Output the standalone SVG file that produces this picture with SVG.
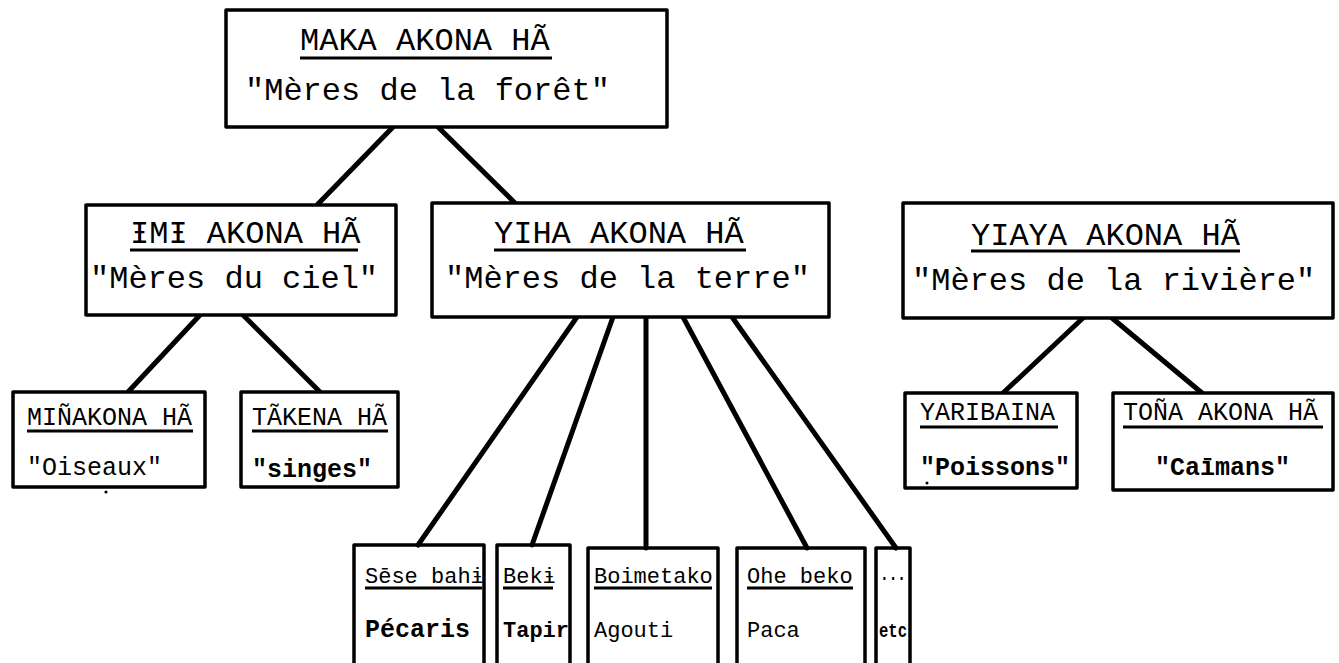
<svg xmlns="http://www.w3.org/2000/svg" width="1339" height="663" viewBox="0 0 1339 663">
<style>
.box{fill:#fff;stroke:#000;stroke-width:3.5;stroke-linejoin:round}
.ob{fill:none;stroke:#000;stroke-width:3.5;stroke-linejoin:round}
.ul{stroke:#000;stroke-width:2.8}
.c{stroke:#000;stroke-width:5;stroke-linecap:round;fill:none}
.t{font-family:"Liberation Mono","DejaVu Sans Mono",monospace;font-size:32px;fill:#000}
.s{font-family:"Liberation Mono","DejaVu Sans Mono",monospace;font-size:25px;fill:#000}
.b{font-family:"Liberation Mono","DejaVu Sans Mono",monospace;font-size:22px;fill:#000}
.bb{font-weight:bold}
</style>
<rect width="1339" height="663" fill="#fff"/>
<g id="connectors">
<line class="c" x1="393" y1="127" x2="317" y2="205"/>
<line class="c" x1="438" y1="127" x2="515" y2="203"/>
<line class="c" x1="200" y1="315" x2="128" y2="392"/>
<line class="c" x1="243" y1="315" x2="320" y2="392"/>
<line class="c" x1="1083" y1="318" x2="1003" y2="393"/>
<line class="c" x1="1112" y1="318" x2="1202" y2="393"/>
<line class="c" x1="577" y1="317" x2="418" y2="545"/>
<line class="c" x1="613" y1="317" x2="532" y2="545"/>
<line class="c" x1="646" y1="317" x2="646" y2="548"/>
<line class="c" x1="683" y1="317" x2="807" y2="548"/>
<line class="c" x1="732" y1="317" x2="896" y2="548"/>
</g>
<g id="maka">
<rect class="box" x="226" y="10" width="441" height="117"/>
<text class="t" x="300" y="50">MAKA AKONA HÃ</text>
<line class="ul" x1="300" y1="58" x2="552" y2="58"/>
<text class="t" x="245" y="100">"Mères de la forêt"</text>
</g>
<g id="imi">
<rect class="box" x="86" y="205" width="310" height="110"/>
<text class="t" x="130" y="243">ƗMƗ AKONA HÃ</text>
<line class="ul" x1="130" y1="250" x2="358" y2="250"/>
<text class="t" x="90" y="288">"Mères du ciel"</text>
</g>
<g id="yiha">
<rect class="box" x="432" y="203" width="397" height="114"/>
<text class="t" x="494" y="243">YIHA AKONA HÃ</text>
<line class="ul" x1="494" y1="250" x2="746" y2="250"/>
<text class="t" x="445" y="288">"Mères de la terre"</text>
</g>
<g id="yiaya">
<rect class="box" x="903" y="203" width="430" height="115"/>
<text class="t" x="971" y="245">YIAYA AKONA HÃ</text>
<line class="ul" x1="971" y1="251" x2="1240" y2="251"/>
<text class="t" x="912" y="290">"Mères de la rivière"</text>
</g>
<g id="minakona">
<rect class="box" x="13" y="392" width="192" height="95"/>
<text class="s" x="27" y="425">MIÑAKONA HÃ</text>
<line class="ul" x1="27" y1="431" x2="193" y2="431"/>
<text class="s" x="27" y="475">"Oiseaux"</text>
<circle cx="106" cy="492" r="1.6" fill="#000"/>
</g>
<g id="takena">
<rect class="box" x="241" y="392" width="157" height="95"/>
<text class="s" x="252" y="425">TÃKENA HÃ</text>
<line class="ul" x1="252" y1="431" x2="388" y2="431"/>
<text class="s bb" x="252" y="477">"singes"</text>
</g>
<g id="yaribaina">
<rect class="box" x="905" y="393" width="172" height="95"/>
<text class="s" x="920" y="420">YARIBAINA</text>
<line class="ul" x1="920" y1="427" x2="1058" y2="427"/>
<text class="s bb" x="920" y="475">"Poissons"</text>
<circle cx="927" cy="483" r="1.5" fill="#000"/>
</g>
<g id="tona">
<rect class="box" x="1113" y="393" width="220" height="97"/>
<text class="s" x="1123" y="420">TOÑA AKONA HÃ</text>
<line class="ul" x1="1123" y1="427" x2="1323" y2="427"/>
<text class="s bb" x="1155" y="475">"Caīmans"</text>
</g>
<g id="sese">
<path class="ob" d="M354,670 V545 H484 V670"/>
<text class="b" x="365" y="583">Sēse bahɨ</text>
<line class="ul" x1="365" y1="588" x2="482" y2="588"/>
<text class="b bb" x="365" y="637" style="font-size:25px">Pécaris</text>
</g>
<g id="beki">
<path class="ob" d="M497,670 V545 H570 V670"/>
<text class="b" x="503" y="583">Bekɨ</text>
<line class="ul" x1="503" y1="588" x2="553" y2="588"/>
<text class="b bb" x="503" y="637">Tapir</text>
</g>
<g id="boimetako">
<path class="ob" d="M588,670 V548 H718 V670"/>
<text class="b" x="594" y="583">Boimetako</text>
<line class="ul" x1="594" y1="588" x2="712" y2="588"/>
<text class="b" x="594" y="637">Agouti</text>
</g>
<g id="ohebeko">
<path class="ob" d="M737,670 V548 H865 V670"/>
<text class="b" x="747" y="583">Ohe beko</text>
<line class="ul" x1="747" y1="588" x2="853" y2="588"/>
<text class="b" x="747" y="637">Paca</text>
</g>
<g id="etc">
<path class="ob" d="M876,670 V548 H910 V670"/>
<text class="b bb" x="880" y="580" style="font-size:20px" textLength="26" lengthAdjust="spacingAndGlyphs">...</text>
<text class="b bb" x="879" y="637" style="font-size:20px" textLength="28" lengthAdjust="spacingAndGlyphs">etc</text>
</g>
</svg>
